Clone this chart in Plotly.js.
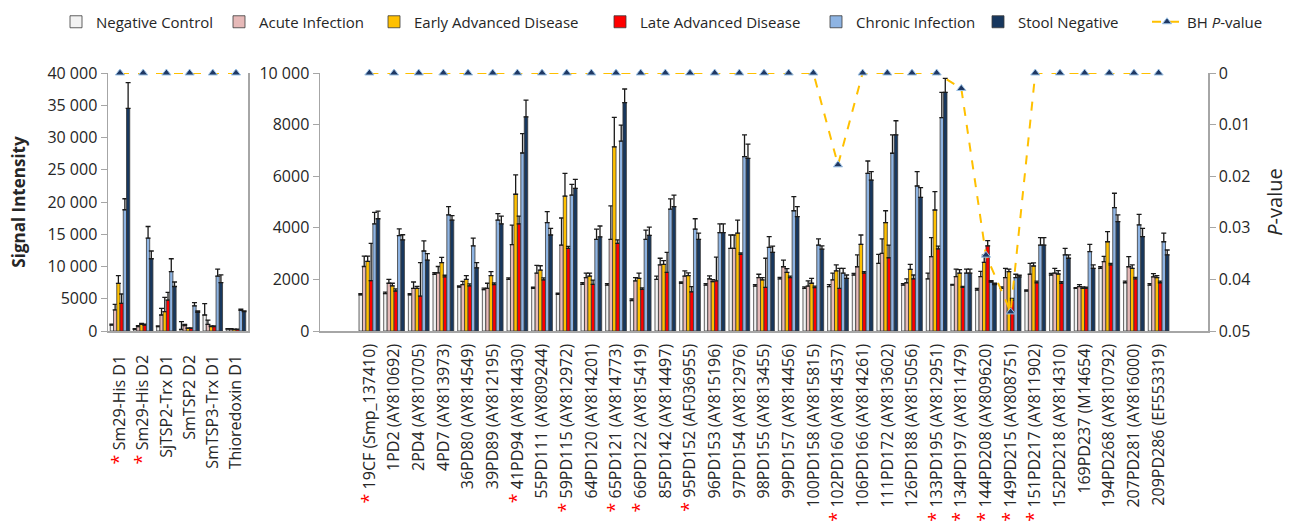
<!DOCTYPE html>
<html>
<head>
<meta charset="utf-8">
<script src="https://cdn.plot.ly/plotly-3.0.1.min.js"></script>
<style>html,body{margin:0;padding:0;background:#fff;}#chart{width:1290px;height:532px;}</style>
</head>
<body>
<div id="chart"></div>
<script>
// ---------- categories ----------
const leftCats = ['Sm29-His D1','Sm29-His D2','SjTSP2-Trx D1','SmTSP2 D2','SmTSP3-Trx D1','Thioredoxin D1'];
const leftStar = [1,1,0,0,0,0];
const rightCats = ['19CF (Smp_137410)','1PD2 (AY810692)','2PD4 (AY810705)','4PD7 (AY813973)','36PD80 (AY814549)','39PD89 (AY812195)','41PD94 (AY814430)','55PD111 (AY809244)','59PD115 (AY812972)','64PD120 (AY814201)','65PD121 (AY814773)','66PD122 (AY815419)','85PD142 (AY814497)','95PD152 (AF036955)','96PD153 (AY815196)','97PD154 (AY812976)','98PD155 (AY813455)','99PD157 (AY814456)','100PD158 (AY815815)','102PD160 (AY814537)','106PD166 (AY814261)','111PD172 (AY813602)','126PD188 (AY815056)','133PD195 (AY812951)','134PD197 (AY811479)','144PD208 (AY809620)','149PD215 (AY808751)','151PD217 (AY811902)','152PD218 (AY814310)','169PD237 (M14654)','194PD268 (AY810792)','207PD281 (AY816000)','209PD286 (EF553319)'];
const rightStar = [1,0,0,0,0,0,1,0,1,0,1,1,0,1,0,0,0,0,0,1,0,0,0,1,1,1,1,1,0,0,0,0,0];

const seriesNames = ['Negative Control','Acute Infection','Early Advanced Disease','Late Advanced Disease','Chronic Infection','Stool Negative'];

// ---------- left panel values ----------
const leftNC  = [930, 260, 670, 250, 2480, 300];
const leftNCe = [150, 100, 120, 1200, 1760, 80];
const leftAI  = [3260, 670, 2480, 830, 1030, 300];
const leftAIe = [870, 150, 1020, 200, 670, 80];
const leftEAD  = [7390, 1030, 3000, 400, 700, 250];
const leftEADe = [1190, 150, 2220, 80, 100, 50];
const leftLAD  = [4290, 930, 4800, 400, 700, 250];
const leftLADe = [1450, 150, 1200, 80, 100, 50];
const leftCI  = [18800, 14400, 9200, 3900, 8500, 3200];
const leftCIe = [1700, 1800, 2000, 500, 1100, 200];
const leftSN  = [34500, 11200, 6900, 2900, 7500, 3000];
const leftSNe = [4000, 1200, 700, 200, 1200, 100];
const leftP = [0, 0, 0, 0, 0, 0];

// ---------- right panel values ----------
const rightNC  = [1400,1450,1400,2200,1700,1600,2000,1650,1420,1810,1780,1180,2000,1850,1780,3200,1740,2020,1650,1720,2170,2620,1780,2020,1780,1590,1650,1550,2170,1650,2430,1870,1780];
const rightNCe = [50,60,50,60,50,60,60,50,50,60,60,60,130,50,60,520,60,60,60,80,60,350,60,220,30,60,60,40,60,30,60,60,60];
const rightAI  = [2500,1850,1650,2250,1800,1650,3350,2240,3330,2070,3550,1940,2560,2130,2020,3200,2070,2490,1740,1980,2490,3010,1870,2880,2110,2110,2070,2200,2240,1720,2690,2490,2100];
const rightAIe = [400,150,250,250,120,200,750,300,1050,170,1300,130,260,200,120,520,130,260,200,260,460,560,150,740,290,200,360,420,190,80,200,390,120];
const rightEAD  = [2700,1750,1650,2650,2000,2150,5300,2360,5230,2130,7140,2040,2580,2150,1910,3790,1980,2270,1850,2330,3360,4200,2390,4690,2240,2660,2300,2520,2210,1650,3460,2430,2070];
const rightEADe = [200,100,80,200,150,150,750,170,880,110,1140,200,150,100,80,510,90,150,190,230,360,460,190,710,140,280,100,120,130,60,390,130,80];
const rightLAD  = [1950,1550,1350,2100,1750,1800,4150,1980,3200,1810,3400,1610,2270,1520,1940,2970,1690,2070,1680,1650,2240,2840,2020,3180,1690,3300,1200,1870,1850,1650,2560,2020,1870];
const rightLADe = [1450,80,1300,60,80,60,300,80,80,160,130,60,780,200,920,60,1130,60,60,780,60,490,150,110,40,200,60,60,60,50,60,60,60];
const rightCI  = [4150,3700,3100,4500,3300,4300,6900,4200,5270,3550,7360,3550,4720,3950,3810,6760,3240,4660,3330,2240,6110,6890,5620,8270,2240,1900,2070,3330,2950,3080,4780,4110,3460];
const rightCIe = [450,260,390,320,300,250,750,430,410,400,620,360,400,400,340,840,420,550,240,190,480,710,560,980,160,50,130,290,250,280,560,410,330];
const rightSN  = [4350,3530,2750,4300,2450,4150,8300,3720,5530,3650,8850,3710,4820,3550,3810,6690,3050,4430,3170,2040,5850,7600,5180,9250,2240,1800,2100,3330,2820,2430,4240,3660,2950];
const rightSNe = [300,200,250,170,200,300,650,260,350,420,530,320,450,240,340,550,240,390,130,130,330,550,380,540,160,50,60,290,130,130,260,320,190];
const rightP = [0,0,0,0,0,0,0,0,0,0,0,0,0,0,0,0,0,0,0,0.0178,0,0,0,0,0.003,0.0353,0.0463,0,0,0,0,0,0];

// tick labels
const leftTicks  = [0,5000,10000,15000,20000,25000,30000,35000,40000];
const leftTickText = ['0','5000','10 000','15 000','20 000','25 000','30 000','35 000','40 000'];
const rightTicks = [0,2000,4000,6000,8000,10000];
const rightTickText = ['0','2000','4000','6000','8000','10 000'];
const pTicks = [0,0.01,0.02,0.03,0.04,0.05];
const pTickText = ['0','0.01','0.02','0.03','0.04','0.05'];

// ---------- styling ----------
const fills = ['#f2f2f2','#e6b9b8','#ffc000','#ff0000','#8eb4e3','#17375e'];
const legendX = [56, 219, 374, 600, 816, 978, 1147];
const FONT = 'Open Sans, Noto Sans, sans-serif';
const AX = '#a6a6a6';

function starText(cats, stars){
  return cats.map((c,i)=> stars[i] ? '<span style="color:#ff0000;font-size:18px">*</span> ' + c : c);
}
const zeros = n => new Array(n).fill(0);

const leftVals = [leftNC,leftAI,leftEAD,leftLAD,leftCI,leftSN];
const leftErrs = [leftNCe,leftAIe,leftEADe,leftLADe,leftCIe,leftSNe];
const rightVals = [rightNC,rightAI,rightEAD,rightLAD,rightCI,rightSN];
const rightErrs = [rightNCe,rightAIe,rightEADe,rightLADe,rightCIe,rightSNe];

const traces = [];
function barTrace(cats, vals, errs, k, xa, ya, showLeg){
  return {
    type:'bar', x:cats, y:vals, name:seriesNames[k], xaxis:xa, yaxis:ya,
    marker:{color:fills[k], line:{color:'#3a3a3a', width:0.8}},
    error_y:{type:'data', symmetric:false, array:errs, arrayminus:zeros(errs.length), color:'#1a1a1a', thickness:1.3, width:2.5},
    showlegend:showLeg, legend: k===0 ? 'legend' : 'legend'+(k+1),
    legendgroup:'g'+k, cliponaxis:false
  };
}
for(let k=0;k<6;k++) traces.push(barTrace(leftCats,leftVals[k],leftErrs[k],k,'x','y',false));
for(let k=0;k<6;k++) traces.push(barTrace(rightCats,rightVals[k],rightErrs[k],k,'x2','y2',true));

const pLine = {color:'#ffc000', width:2, dash:'dash'};
const pMarker = {symbol:'triangle-up', size:8, color:'#1f3864', line:{color:'#9dc3e6', width:1}};
traces.push({type:'scatter', mode:'lines+markers', x:leftCats, y:leftP, xaxis:'x', yaxis:'y3', line:pLine, marker:pMarker, showlegend:false, cliponaxis:false, name:'BH P-value', legendgroup:'p'});
traces.push({type:'scatter', mode:'lines+markers', x:rightCats, y:rightP, xaxis:'x2', yaxis:'y4', line:pLine, marker:pMarker, showlegend:true, legend:'legend7', cliponaxis:false, name:'BH <i>P</i>-value', legendgroup:'p'});

const yDom = [1-331/532, 1-73/532];
const tickFont = {family:FONT, size:16, color:'#262626'};

const layout = {
  width:1290, height:532,
  margin:{l:0,r:0,t:0,b:0},
  paper_bgcolor:'#ffffff', plot_bgcolor:'rgba(0,0,0,0)',
  barmode:'group', bargap:0.16, bargroupgap:0,
  font:{family:FONT, color:'#262626'},
  xaxis:{domain:[108/1290, 248/1290], anchor:'y', type:'category', tickmode:'array', tickvals:leftCats, ticktext:starText(leftCats,leftStar),
    tickangle:-90, tickfont:tickFont, showline:true, linecolor:AX, linewidth:1.5, ticks:'', showgrid:false, automargin:false, ticklabelstandoff:16},
  yaxis:{domain:yDom, anchor:'x', range:[0,40000], tickmode:'array', tickvals:leftTicks, ticktext:leftTickText, tickfont:tickFont,
    showline:true, mirror:true, linecolor:AX, linewidth:1.5, ticks:'outside', ticklen:6, tickcolor:AX, showgrid:false, zeroline:false, automargin:false,
    title:{text:'<b>Signal Intensity</b>', font:{family:FONT, size:17, color:'#262626'}, standoff:17}},
  yaxis3:{overlaying:'y', anchor:'x', range:[0.05,0], visible:false, showgrid:false, zeroline:false},
  xaxis2:{domain:[320/1290, 1208/1290], anchor:'y2', type:'category', tickmode:'array', tickvals:rightCats, ticktext:starText(rightCats,rightStar),
    tickangle:-90, tickfont:tickFont, showline:true, linecolor:AX, linewidth:1.5, ticks:'', showgrid:false, automargin:false, ticklabelstandoff:5},
  yaxis2:{domain:yDom, anchor:'x2', range:[0,10000], tickmode:'array', tickvals:rightTicks, ticktext:rightTickText, tickfont:tickFont,
    showline:true, linecolor:AX, linewidth:1.5, ticks:'outside', ticklen:6, tickcolor:AX, showgrid:false, zeroline:false, automargin:false},
  yaxis4:{overlaying:'y2', anchor:'x2', side:'right', range:[0.05,0], tickmode:'array', tickvals:pTicks, ticktext:pTickText, tickfont:tickFont,
    showline:true, linecolor:AX, linewidth:1.5, ticks:'outside', ticklen:6, tickcolor:AX, showgrid:false, zeroline:false, automargin:false,
    title:{text:'<i>P</i>-value', font:{family:FONT, size:20, color:'#262626'}, standoff:18}}
};
const legNames = ['legend','legend2','legend3','legend4','legend5','legend6','legend7'];
legNames.forEach((ln,i)=>{
  layout[ln] = {x:legendX[i]/1290, y:1-22/532, xanchor:'left', yanchor:'middle', orientation:'h',
    font:{family:FONT, size:15, color:'#262626'}, bgcolor:'rgba(0,0,0,0)', borderwidth:0};
});

Plotly.newPlot('chart', traces, layout, {displayModeBar:false, staticPlot:true});
</script>
</body>
</html>
